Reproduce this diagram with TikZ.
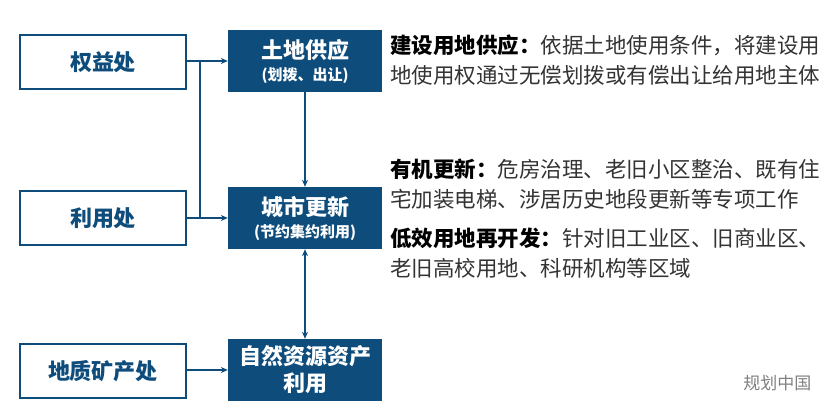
\documentclass[tikz,border=0pt]{standalone}
\usepackage{fontspec}
\setmainfont{Noto Sans CJK SC}
\usetikzlibrary{arrows.meta}
\definecolor{db}{HTML}{0E4C7C}
\definecolor{tx}{HTML}{333333}
\begin{document}
\begin{tikzpicture}[x=1pt,y=-1pt,
 lbox/.style={draw=db,line width=1.5pt,fill=white,minimum width=166pt,minimum height=54pt,text=db,font=\fontsize{22}{24}\selectfont\bfseries},
 mbox/.style={fill=db,minimum width=154pt,minimum height=62pt,text=white,align=center,inner sep=0pt,font=\fontsize{22}{22}\selectfont\bfseries},
 conn/.style={db,line width=1.3pt,-{Stealth[length=7pt,width=6pt]}},
 desc/.style={anchor=north west,align=left,text=tx,font=\fontsize{21.5}{30}\selectfont,inner sep=0pt}]
\useasboundingbox (0,0) rectangle (839,419);
\node[lbox] (a) at (103,62) {权益处};
\node[lbox] (b) at (103,218) {利用处};
\node[lbox] (c) at (103,371) {地质矿产处};
\node[mbox] (m1) at (305,61) {土地供应\\{\fontsize{15}{17}\selectfont (划拨、出让)}};
\node[mbox] (m2) at (305,218) {城市更新\\{\fontsize{15}{17}\selectfont (节约集约利用)}};
\node[mbox,font=\fontsize{22}{27}\selectfont\bfseries] (m3) at (305,370) {自然资源资产\\利用};
\coordinate (j1) at (200,61);
\coordinate (j2) at (200,218);
\draw[conn] (a.east |- m1.west) -- (m1.west);
\draw[conn] (b.east |- m2.west) -- (m2.west);
\draw[conn] (c.east |- m3.west) -- (m3.west);
\draw[db,line width=1.3pt] (j1) -- (j2);
\draw[conn] (m1.south) -- (m2.north);
\draw[conn,{Stealth[length=7pt,width=6pt]}-{Stealth[length=7pt,width=6pt]}] (m2.south) -- (m3.north);
\node[desc] (d1) at (390,35) {\textcolor{black}{\bfseries 建设用地供应：}依据土地使用条件，将建设用\\地使用权通过无偿划拨或有偿出让给用地主体};
\node[desc] (d2) at (390,159) {\textcolor{black}{\bfseries 有机更新：}危房治理、老旧小区整治、既有住\\宅加装电梯、涉居历史地段更新等专项工作};
\node[desc] (d3) at (390,228) {\textcolor{black}{\bfseries 低效用地再开发：}针对旧工业区、旧商业区、\\老旧高校用地、科研机构等区域};
\node[anchor=east,text=gray,font=\fontsize{17}{19}\selectfont] (w) at (815,383) {规划中国};
\end{tikzpicture}
\end{document}
